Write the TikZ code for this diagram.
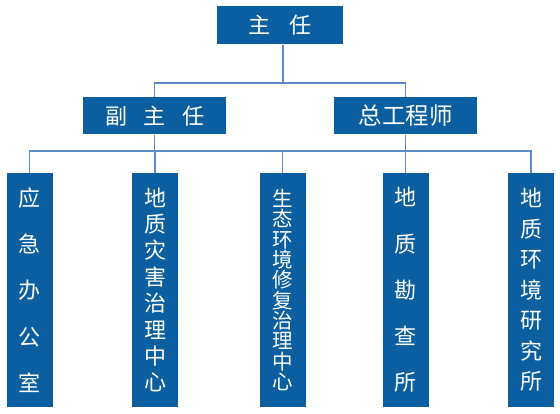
\documentclass[tikz,border=0pt]{standalone}
\usepackage{fontspec}
\newfontfamily\cjk{Noto Sans CJK SC}
\definecolor{boxblue}{HTML}{0B5FA0}
\definecolor{lineblue}{HTML}{5B8CC6}
\newcommand\colfontb[2]{\cjk\fontsize{#1pt}{#2pt}\selectfont\lineskiplimit=-100pt\relax\lineskip=0pt\relax}
\newcommand\colfont[1]{\colfontb{22}{#1}}
\begin{document}
\begin{tikzpicture}[x=1pt,y=-1pt,
  box/.style={fill=boxblue, text=white, inner sep=0pt, font=\cjk\fontsize{22pt}{26pt}\selectfont},
  col/.style={box, minimum width=46pt, minimum height=234pt, align=center},
  conn/.style={draw=lineblue, line width=1.2pt}]
\useasboundingbox (0,0) rectangle (560,414);
% top
\node[box, minimum width=126pt, minimum height=38pt] (t) at (280,25.5) {主\hspace{0.9em}任};
% middle
\node[box, minimum width=143pt, minimum height=37pt] (a) at (154.5,116) {副\hspace{0.75em}主\hspace{0.75em}任};
\node[box, minimum width=143pt, minimum height=37pt, font=\cjk\fontsize{23.5pt}{27pt}\selectfont] (b) at (405.5,116) {总工程师};
% columns
\node[col, font=\colfont{46.25}] (c1) at (29.5,290) {应\\急\\办\\公\\室};
\node[col, font=\colfont{26.4}] (c2) at (155,290) {地\\质\\灾\\害\\治\\理\\中\\心};
\node[col, font=\colfontb{20.5}{20.3}] (c3) at (282.5,290) {生\\态\\环\\境\\修\\复\\治\\理\\中\\心};
\node[col, font=\colfont{46.25}] (c4) at (405.5,290) {地\\质\\勘\\查\\所};
\node[col, font=\colfont{30.5}] (c5) at (531,290) {地\\质\\环\\境\\研\\究\\所};
% connectors
\coordinate (h1) at (283,83);
\coordinate (h2) at (283,151);
\draw[conn] (h1 |- t.south) -- (h1);
\draw[conn] (a.north) |- (h1) -| (b.north);
\draw[conn] (a.south) -- (a.south |- h2);
\draw[conn] (b.south) -- (b.south |- h2);
\draw[conn] (c1.north) |- (h2) -| (c5.north);
\draw[conn] (c2.north) -- (c2.north |- h2);
\draw[conn] (c3.north) -- (c3.north |- h2);
\draw[conn] (c4.north) -- (c4.north |- h2);
\end{tikzpicture}
\end{document}
